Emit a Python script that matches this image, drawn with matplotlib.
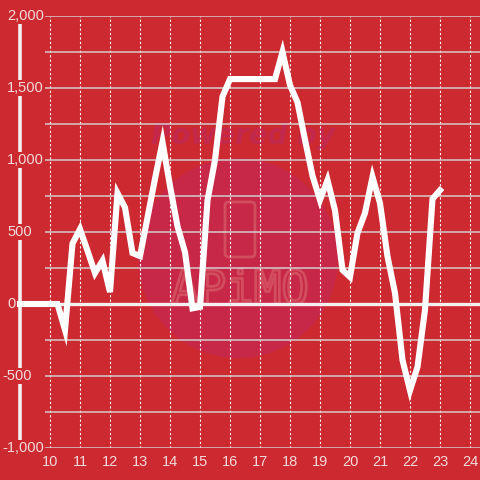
import numpy as np
import matplotlib
matplotlib.use("Agg")
import matplotlib.pyplot as plt
import matplotlib.transforms as mtransforms
import matplotlib.patheffects as pe
from matplotlib.patches import Circle, FancyBboxPatch

# data: one reading every 15 minutes, 09:00 -> 23:00
hours = np.arange(9.0, 23.01, 0.25)
values = [0, 0, 0, 0, 0, 0, -180, 420, 520, 370, 215, 300, 83, 770, 670, 354,
          333, 600, 870, 1125, 820, 540, 360, -30, -20, 720, 1000, 1440, 1562,
          1562, 1562, 1562, 1562, 1562, 1562, 1750, 1520, 1400, 1140, 890, 722,
          860, 650, 236, 188, 493, 632, 882, 700, 330, 76, -389, -600, -437,
          -40, 730, 790]
x_ticks = list(range(10, 25))
y_ticks = [-1000, -500, 0, 500, 1000, 1500, 2000]

bg = '#cc2a30'
label_col = '#f3dada'
plt.rcParams['font.family'] = ['Liberation Sans', 'DejaVu Sans']

fig = plt.figure(figsize=(4.8, 4.8), dpi=100, facecolor=bg)
ax = fig.add_axes([45/480, 32/480, 435/480, 432/480], facecolor=bg)
ax.set_xlim(9.0 + 25/30, 24 + 10/30)
ax.set_ylim(-1000, 2000)
for s in ax.spines.values():
    s.set_visible(False)
ax.set_axisbelow(True)

# watermark
ax.add_patch(Circle((238/480, 1 - 258/480), 100/480, transform=fig.transFigure,
                    facecolor='#c82848', edgecolor='none', zorder=0, clip_on=False))
ax.add_patch(FancyBboxPatch((225/480, 1 - 257/480), 30/480, 55/480,
                            boxstyle='round,pad=0,rounding_size=0.008',
                            transform=fig.transFigure, facecolor='none',
                            edgecolor='#d24d5e', linewidth=2, zorder=0, clip_on=False))
ax.text(243/480, 1 - 136/480, 'Powered by', transform=fig.transFigure, ha='center',
        va='center', fontsize=20, fontweight='bold', style='italic', color='#c4284a',
        family='DejaVu Sans', zorder=0)
ax.text(240/480, 1 - 291/480, 'APiMO', transform=fig.transFigure, ha='center',
        va='center', fontsize=33, color=(0, 0, 0, 0), family='DejaVu Sans Mono',
        path_effects=[pe.withStroke(linewidth=2, foreground='#d24d5e')], zorder=0)

# grid
ax.set_yticks(np.arange(-1000, 2001, 250))
ax.set_xticks(x_ticks)
ax.yaxis.grid(True, color='#d4cccc', linewidth=1.1)
ax.xaxis.grid(True, color='white', linewidth=0.8, linestyle=(0, (2, 2)))
ax.tick_params(length=0, labelleft=False)
ax.tick_params(axis='x', colors=label_col, labelsize=10.5, pad=5)

# left axis line and zero line
ax.axvline(9.0, color='#f4f0f0', linewidth=2.6, clip_on=False, zorder=1)
ax.axhline(0, xmin=-28/435, xmax=1, color='#f4f0f0', linewidth=2.4, clip_on=False, zorder=1)

# y labels (left aligned, boxed over the axis line)
tr = mtransforms.blended_transform_factory(fig.transFigure, ax.transData)
for v in y_ticks:
    x0 = 2/480 if v < 0 else 7/480
    ax.text(x0, v, f'{v:,}', transform=tr, ha='left', va='center', fontsize=10.5,
            color=label_col, zorder=3,
            bbox=dict(facecolor=bg, edgecolor='none', pad=1))

ax.plot(hours, values, color='white', linewidth=4.4, solid_joinstyle='miter',
        clip_on=False, zorder=4)

fig.savefig('out.png', dpi=100, facecolor=bg)
